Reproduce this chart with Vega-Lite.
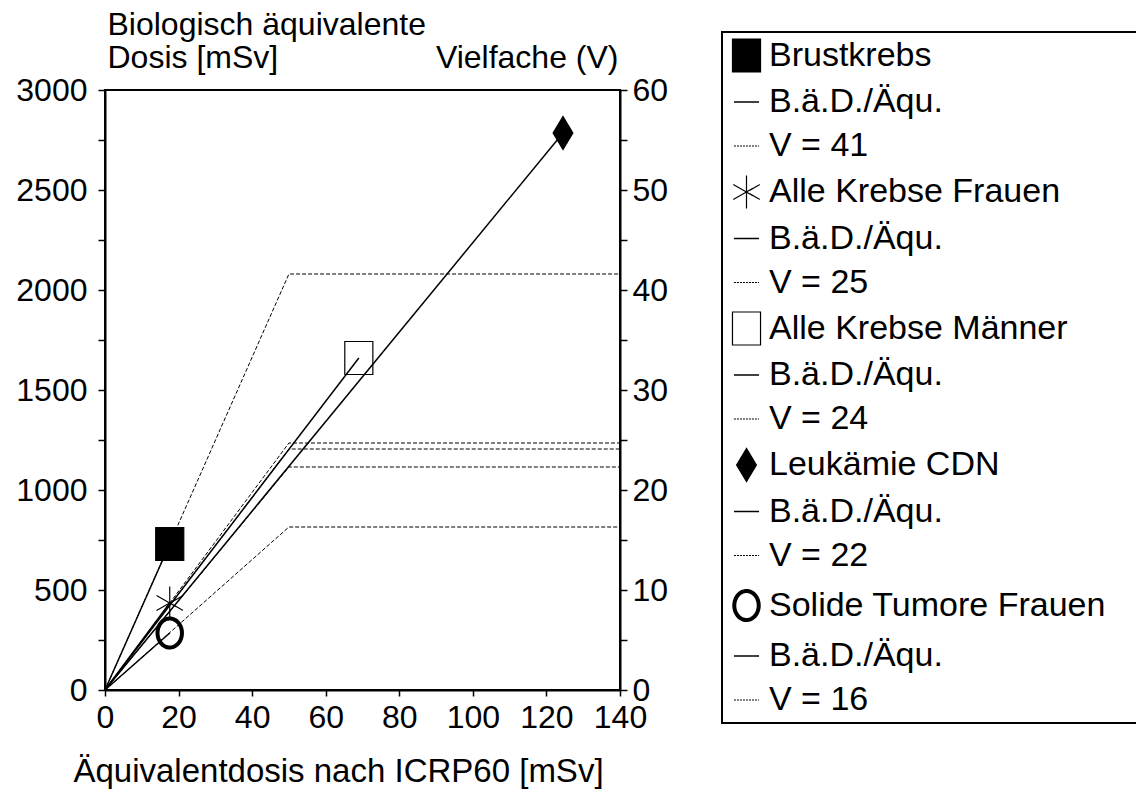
{
  "$schema": "https://vega.github.io/schema/vega-lite/v6.json",
  "width": 515,
  "height": 600,
  "autosize": {"type": "none"},
  "padding": {"left": 105, "top": 90, "right": 516, "bottom": 104},
  "background": "white",
  "config": {
    "font": "Liberation Sans",
    "view": {"stroke": "black", "strokeWidth": 2},
    "legend": {"strokeWidth": 2},
    "axis": {
      "grid": false,
      "domainColor": "black",
      "domainWidth": 2,
      "tickColor": "black",
      "tickWidth": 1.5,
      "labelColor": "black",
      "titleColor": "black",
      "labelFont": "Liberation Sans",
      "titleFont": "Liberation Sans",
      "labelFontSize": 32,
      "titleFontSize": 32,
      "titleFontWeight": "normal",
      "labelFlush": false,
      "labelOverlap": false
    }
  },
  "datasets": {
    "solid": [
      {"series": "Brustkrebs", "x": 0, "y": 0},
      {"series": "Brustkrebs", "x": 17.6, "y": 730},
      {"series": "Alle Krebse Frauen", "x": 0, "y": 0},
      {"series": "Alle Krebse Frauen", "x": 17.6, "y": 435},
      {"series": "Alle Krebse Männer", "x": 0, "y": 0},
      {"series": "Alle Krebse Männer", "x": 69, "y": 1660},
      {"series": "Leukämie CDN", "x": 0, "y": 0},
      {"series": "Leukämie CDN", "x": 124.5, "y": 2785},
      {"series": "Solide Tumore Frauen", "x": 0, "y": 0},
      {"series": "Solide Tumore Frauen", "x": 17.6, "y": 285}
    ],
    "points": [
      {"entry": "01", "series": "Brustkrebs", "x": 17.6, "y": 730},
      {"entry": "04", "series": "Alle Krebse Frauen", "x": 17.6, "y": 435},
      {"entry": "07", "series": "Alle Krebse Männer", "x": 69, "y": 1660},
      {"entry": "10", "series": "Leukämie CDN", "x": 124.5, "y": 2785},
      {"entry": "13", "series": "Solide Tumore Frauen", "x": 17.6, "y": 285}
    ],
    "dotted": [
      {"series": "Brustkrebs", "x": 0, "v": 0},
      {"series": "Brustkrebs", "x": 50, "v": 41.6},
      {"series": "Brustkrebs", "x": 140, "v": 41.6},
      {"series": "Alle Krebse Frauen", "x": 0, "v": 0},
      {"series": "Alle Krebse Frauen", "x": 50, "v": 24.7},
      {"series": "Alle Krebse Frauen", "x": 140, "v": 24.7},
      {"series": "Alle Krebse Männer", "x": 0, "v": 0},
      {"series": "Alle Krebse Männer", "x": 50, "v": 24.1},
      {"series": "Alle Krebse Männer", "x": 140, "v": 24.1},
      {"series": "Leukämie CDN", "x": 0, "v": 0},
      {"series": "Leukämie CDN", "x": 50, "v": 22.3},
      {"series": "Leukämie CDN", "x": 140, "v": 22.3},
      {"series": "Solide Tumore Frauen", "x": 0, "v": 0},
      {"series": "Solide Tumore Frauen", "x": 50, "v": 16.3},
      {"series": "Solide Tumore Frauen", "x": 140, "v": 16.3}
    ]
  },
  "layer": [
    {
      "data": {"name": "solid"},
      "mark": {"type": "line", "color": "black", "strokeWidth": 1.5},
      "encoding": {
        "x": {
          "field": "x", "type": "quantitative",
          "scale": {"domain": [0, 140], "nice": false, "zero": false},
          "axis": {
            "values": [0, 10, 20, 30, 40, 50, 60, 70, 80, 90, 100, 110, 120, 130, 140],
            "labelExpr": "datum.value % 20 == 0 ? datum.label : ''",
            "format": "d",
            "tickSize": 6,
            "labelPadding": 6,
            "title": "Äquivalentdosis nach ICRP60 [mSv]",
            "titleFontSize": 33,
            "titleX": 233,
            "titleY": 91,
            "titleBaseline": "alphabetic"
          }
        },
        "y": {
          "field": "y", "type": "quantitative",
          "scale": {"domain": [0, 3000], "nice": false, "zero": false},
          "axis": {
            "values": [0, 250, 500, 750, 1000, 1250, 1500, 1750, 2000, 2250, 2500, 2750, 3000],
            "labelExpr": "datum.value % 500 == 0 ? datum.label : ''",
            "format": "d",
            "tickSize": 7,
            "labelPadding": 11,
            "title": ["Biologisch äquivalente", "Dosis [mSv]"],
            "titleAngle": 0,
            "titleAlign": "left",
            "titleX": 2,
            "titleY": -56,
            "titleBaseline": "alphabetic",
            "titleLineHeight": 33
          }
        },
        "detail": {"field": "series"}
      }
    },
    {
      "data": {"name": "points"},
      "mark": {"type": "point", "opacity": 1},
      "encoding": {
        "x": {"field": "x", "type": "quantitative", "scale": {"domain": [0, 140], "nice": false, "zero": false}},
        "y": {"field": "y", "type": "quantitative", "scale": {"domain": [0, 3000], "nice": false, "zero": false}, "axis": null},
        "size": {"value": 1089},
        "stroke": {
          "field": "entry", "type": "nominal",
          "scale": {
            "domain": ["01", "02", "03", "04", "05", "06", "07", "08", "09", "10", "11", "12", "13", "14", "15"],
            "range": ["black", "black", "black", "black", "black", "black", "black", "black", "black", "black", "black", "black", "black", "black", "black"]
          }
        },
        "fill": {
          "field": "entry", "type": "nominal",
          "scale": {
            "domain": ["01", "02", "03", "04", "05", "06", "07", "08", "09", "10", "11", "12", "13", "14", "15"],
            "range": ["black", "transparent", "transparent", "transparent", "transparent", "transparent", "transparent", "transparent", "transparent", "black", "transparent", "transparent", "transparent", "transparent", "transparent"]
          }
        },
        "strokeWidth": {
          "field": "entry", "type": "nominal",
          "scale": {
            "type": "ordinal",
            "domain": ["01", "02", "03", "04", "05", "06", "07", "08", "09", "10", "11", "12", "13", "14", "15"],
            "range": [1.2, 1.6, 1, 1.2, 1.6, 1, 1.2, 1.6, 1, 1.2, 1.6, 1, 4, 1.6, 1]
          }
        },
        "strokeDash": {
          "field": "entry", "type": "nominal",
          "scale": {
            "domain": ["01", "02", "03", "04", "05", "06", "07", "08", "09", "10", "11", "12", "13", "14", "15"],
            "range": [[1, 0], [1, 0], [2, 1], [1, 0], [1, 0], [2, 1], [1, 0], [1, 0], [2, 1], [1, 0], [1, 0], [2, 1], [1, 0], [1, 0], [2, 1]]
          }
        },
        "shape": {
          "field": "entry", "type": "nominal",
          "scale": {
            "domain": ["01", "02", "03", "04", "05", "06", "07", "08", "09", "10", "11", "12", "13", "14", "15"],
            "range": [
              "M-0.85,-1H0.85V1H-0.85Z",
              "M-0.76,0H0.76",
              "M-0.76,0H0.76",
              "M0,-1V1M-0.8,-0.45L0.8,0.45M-0.8,0.45L0.8,-0.45",
              "M-0.76,0H0.76",
              "M-0.76,0H0.76",
              "M-0.85,-1H0.85V1H-0.85Z",
              "M-0.76,0H0.76",
              "M-0.76,0H0.76",
              "M0,-1L0.6,0L0,1L-0.6,0Z",
              "M-0.76,0H0.76",
              "M-0.76,0H0.76",
              "M-0.74,0A0.74,0.88,0,1,1,0.74,0A0.74,0.88,0,1,1,-0.74,0Z",
              "M-0.76,0H0.76",
              "M-0.76,0H0.76"
            ]
          },
          "legend": {
            "orient": "none",
            "legendX": 617,
            "legendY": -58,
            "title": "\u00a0",
            "titleOrient": "right",
            "titlePadding": 40,
            "titleFontSize": 10,
            "padding": 6,
            "strokeColor": "black",
            "fillColor": "white",
            "symbolSize": 1089,
            "symbolOpacity": 1,
            "labelFont": "Liberation Sans",
            "labelFontSize": 34,
            "labelColor": "black",
            "labelOffset": 4,
            "labelLimit": 600,
            "rowPadding": 9.5,
            "labelExpr": "({'01':'Brustkrebs','02':'B.ä.D./Äqu.','03':'V = 41','04':'Alle Krebse Frauen','05':'B.ä.D./Äqu.','06':'V = 25','07':'Alle Krebse Männer','08':'B.ä.D./Äqu.','09':'V = 24','10':'Leukämie CDN','11':'B.ä.D./Äqu.','12':'V = 22','13':'Solide Tumore Frauen','14':'B.ä.D./Äqu.','15':'V = 16'})[datum.value]"
          }
        }
      }
    },
    {
      "data": {"name": "dotted"},
      "mark": {"type": "line", "color": "black", "strokeWidth": 1, "strokeDash": [4, 2]},
      "encoding": {
        "x": {"field": "x", "type": "quantitative", "scale": {"domain": [0, 140], "nice": false, "zero": false}},
        "y": {
          "field": "v", "type": "quantitative",
          "scale": {"domain": [0, 60], "nice": false, "zero": false},
          "axis": {
            "orient": "right",
            "values": [0, 5, 10, 15, 20, 25, 30, 35, 40, 45, 50, 55, 60],
            "labelExpr": "datum.value % 10 == 0 ? datum.label : ''",
            "format": "d",
            "tickSize": 7,
            "labelPadding": 5,
            "title": "Vielfache (V)",
            "titleAngle": 0,
            "titleAlign": "right",
            "titleX": -2,
            "titleY": -23,
            "titleBaseline": "alphabetic"
          }
        },
        "detail": {"field": "series"}
      }
    }
  ],
  "resolve": {"scale": {"y": "independent"}, "axis": {"y": "independent"}}
}
